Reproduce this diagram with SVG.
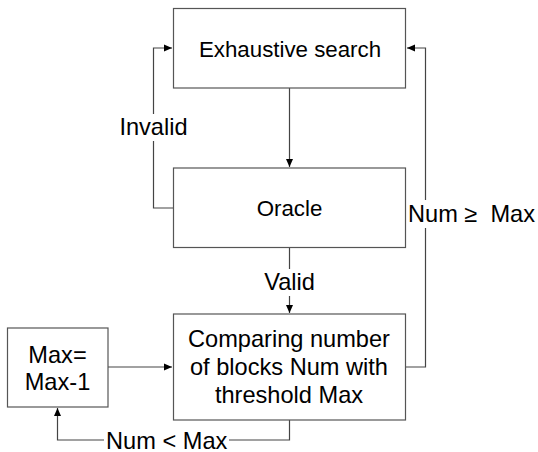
<svg xmlns="http://www.w3.org/2000/svg" width="538" height="452" viewBox="0 0 538 452">
<style>
.box{fill:#fff;stroke:#555;stroke-width:1.2}
.t{font-family:"Liberation Sans",Arial,sans-serif;font-size:23.6px;fill:#000;text-anchor:middle}
.s{font-size:22.3px}
.c{fill:none;stroke:#444;stroke-width:1.2}
.bg{fill:#fff}
</style>
<defs>
<marker id="ah" markerWidth="10" markerHeight="10" refX="9" refY="5" orient="auto" markerUnits="userSpaceOnUse">
<path d="M1,1.5 L9,5 L1,8.5 Z" fill="#000"/>
</marker>
</defs>
<rect width="538" height="452" fill="#fff"/>
<g id="connectors">
<path class="c" d="M289.5,88 V167" marker-end="url(#ah)"/>
<path class="c" d="M173,208 H153.5 V48 H172" marker-end="url(#ah)"/>
<path class="c" d="M289.5,247.5 V313" marker-end="url(#ah)"/>
<path class="c" d="M108,367 H172" marker-end="url(#ah)"/>
<path class="c" d="M406,367 H425.5 V48 H407" marker-end="url(#ah)"/>
<path class="c" d="M289.5,420 V440 H57.5 V408" marker-end="url(#ah)"/>
<rect class="bg" x="118" y="114" width="71" height="27"/>
<text class="t" x="153.5" y="135">Invalid</text>
<rect class="bg" x="262" y="269" width="55" height="27"/>
<text class="t" x="289.5" y="290">Valid</text>
<rect class="bg" x="408" y="200" width="128" height="28"/>
<text class="t" x="471.5" y="222" xml:space="preserve">Num ≥  Max</text>
<rect class="bg" x="104" y="429" width="125" height="23"/>
<text class="t" x="166.7" y="448.5">Num &lt; Max</text>
</g>
<g id="exhaustive">
<rect class="box" x="173.5" y="8.5" width="232" height="79.5"/>
<text class="t s" x="290" y="56.5">Exhaustive search</text>
</g>
<g id="oracle">
<rect class="box" x="173.5" y="168" width="232" height="79.5"/>
<text class="t s" x="289.5" y="216">Oracle</text>
</g>
<g id="comparing">
<rect class="box" x="173.5" y="314" width="232" height="106"/>
<text class="t" x="289" y="347">Comparing number</text>
<text class="t" x="289" y="375">of blocks Num with</text>
<text class="t" x="289" y="403">threshold Max</text>
</g>
<g id="maxbox">
<rect class="box" x="7.5" y="328" width="100.5" height="79"/>
<text class="t" x="57.5" y="362.5">Max=</text>
<text class="t" x="57.5" y="390">Max-1</text>
</g>
</svg>
